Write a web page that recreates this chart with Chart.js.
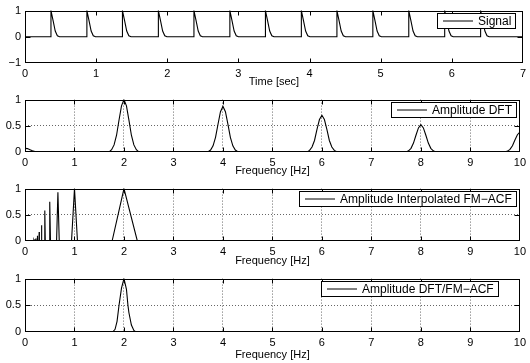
<!DOCTYPE html>
<html>
<head>
<meta charset="utf-8">
<script src="https://cdn.jsdelivr.net/npm/chart.js@4.4.1/dist/chart.umd.min.js"></script>
<style>
  html, body { margin: 0; padding: 0; background: #fff; }
  #wrap { position: relative; width: 530px; height: 363px; overflow: hidden; }
  #wrap canvas { position: absolute; left: 0; }
</style>
</head>
<body>
<div id="wrap">
  <canvas id="signalChart" width="530" height="89" style="top:0px"></canvas>
  <canvas id="dftChart" width="530" height="89" style="top:89px"></canvas>
  <canvas id="acfChart" width="530" height="90" style="top:178px"></canvas>
  <canvas id="ratioChart" width="530" height="95" style="top:268px"></canvas>
</div>
<script>
// time signal [sec, value], one pulse per line
const signalPoints = [
  [0, 0],
  [0.365, 0], [0.365, 1], [0.395, 0.62], [0.425, 0.22], [0.455, 0.04], [0.485, 0],
  [0.87, 0], [0.87, 1], [0.9, 0.62], [0.93, 0.22], [0.96, 0.04], [0.99, 0],
  [1.37, 0], [1.37, 1], [1.4, 0.62], [1.43, 0.22], [1.46, 0.04], [1.49, 0],
  [1.875, 0], [1.875, 1], [1.905, 0.62], [1.935, 0.22], [1.965, 0.04], [1.995, 0],
  [2.375, 0], [2.375, 1], [2.405, 0.62], [2.435, 0.22], [2.465, 0.04], [2.495, 0],
  [2.88, 0], [2.88, 1], [2.91, 0.62], [2.94, 0.22], [2.97, 0.04], [3.0, 0],
  [3.38, 0], [3.38, 1], [3.41, 0.62], [3.44, 0.22], [3.47, 0.04], [3.5, 0],
  [3.885, 0], [3.885, 1], [3.915, 0.62], [3.945, 0.22], [3.975, 0.04], [4.005, 0],
  [4.385, 0], [4.385, 1], [4.415, 0.62], [4.445, 0.22], [4.475, 0.04], [4.505, 0],
  [4.89, 0], [4.89, 1], [4.92, 0.62], [4.95, 0.22], [4.98, 0.04], [5.01, 0],
  [5.395, 0], [5.395, 1], [5.425, 0.62], [5.455, 0.22], [5.485, 0.04], [5.515, 0],
  [5.9, 0], [5.9, 1], [5.93, 0.62], [5.96, 0.22], [5.99, 0.04], [6.02, 0],
  [6.405, 0], [6.405, 1], [6.435, 0.62], [6.465, 0.22], [6.495, 0.04], [6.525, 0],
  [7, 0]
];

// amplitude DFT [Hz, amplitude]
const dftPoints = [
  [0, 0.07], [0.05, 0.065], [0.1, 0.045], [0.15, 0.025], [0.2, 0.01], [0.25, 0.003], [0.3, 0],
  [1.62, 0], [1.66, 0.008], [1.7, 0.002],
  [1.75, 0.044], [1.8, 0.135], [1.85, 0.32], [1.9, 0.61], [1.95, 0.88], [2, 1],
  [2.05, 0.88], [2.1, 0.61], [2.15, 0.32], [2.2, 0.135], [2.25, 0.044], [2.3, 0.002], [2.35, 0.008], [2.39, 0],
  [3.65, 0], [3.7, 0.006],
  [3.75, 0.038], [3.8, 0.117], [3.85, 0.28], [3.9, 0.53], [3.95, 0.77], [4, 0.87],
  [4.05, 0.77], [4.1, 0.53], [4.15, 0.28], [4.2, 0.117], [4.25, 0.038], [4.3, 0.006], [4.35, 0],
  [5.7, 0],
  [5.75, 0.031], [5.8, 0.095], [5.85, 0.22], [5.9, 0.43], [5.95, 0.62], [6, 0.70],
  [6.05, 0.62], [6.1, 0.43], [6.15, 0.22], [6.2, 0.095], [6.25, 0.031], [6.3, 0.004], [6.35, 0],
  [7.7, 0],
  [7.75, 0.023], [7.8, 0.07], [7.85, 0.17], [7.9, 0.32], [7.95, 0.46], [8, 0.52],
  [8.05, 0.46], [8.1, 0.32], [8.15, 0.17], [8.2, 0.07], [8.25, 0.023], [8.3, 0],
  [9.7, 0],
  [9.75, 0.017], [9.8, 0.05], [9.85, 0.12], [9.9, 0.23], [9.95, 0.33], [10, 0.38]
];

// amplitude interpolated FM-ACF [Hz, amplitude]
const acfPoints = [
  [0, 0],
  [0.175, 0], [0.18, 0.015], [0.185, 0],
  [0.197, 0], [0.2, 0.03], [0.203, 0],
  [0.219, 0], [0.222, 0.05], [0.225, 0],
  [0.246, 0], [0.25, 0.1], [0.254, 0],
  [0.281, 0], [0.286, 0.17], [0.291, 0],
  [0.326, 0], [0.333, 0.3], [0.34, 0],
  [0.39, 0], [0.4, 0.58], [0.41, 0],
  [0.485, 0], [0.5, 0.75], [0.515, 0],
  [0.638, 0], [0.665, 0.93], [0.692, 0],
  [0.94, 0], [1, 1], [1.06, 0],
  [1.76, 0], [2, 1], [2.27, 0],
  [10, 0]
];

// amplitude DFT / FM-ACF [Hz, amplitude]
const ratioPoints = [
  [0, 0], [1.77, 0], [1.82, 0.05], [1.86, 0.2], [1.9, 0.5], [1.95, 0.82], [2, 1],
  [2.05, 0.8], [2.08, 0.5], [2.1, 0.36], [2.15, 0.13], [2.2, 0.03], [2.24, 0], [10, 0]
];

const FAMILY = '"Liberation Sans", Arial, Helvetica, sans-serif';
const FONT = { family: FAMILY, size: 11 };
const LEGEND_FONT = '12px ' + FAMILY;
const DOT = 'rgba(0,0,0,0.6)';

const matlabFrame = {
  id: 'matlabFrame',
  afterDatasetsDraw(chart, args, opts) {
    const { ctx, chartArea: a, scales: { x, y } } = chart;
    const left = Math.round(a.left) + 0.5, right = Math.round(a.right) - 0.5;
    const top = Math.round(a.top) + 0.5, bottom = Math.round(a.bottom) - 0.5;
    ctx.save();
    ctx.strokeStyle = '#000';
    ctx.lineWidth = 1;
    ctx.beginPath();
    x.ticks.forEach((t) => {
      if (t.value <= x.min || t.value >= x.max) return;
      const px = Math.round(x.getPixelForValue(t.value)) + 0.5;
      ctx.moveTo(px, bottom); ctx.lineTo(px, bottom - 4);
      ctx.moveTo(px, top); ctx.lineTo(px, top + 4);
    });
    y.ticks.forEach((t) => {
      if (t.value <= y.min || t.value >= y.max) return;
      const py = Math.round(y.getPixelForValue(t.value)) + 0.5;
      ctx.moveTo(left, py); ctx.lineTo(left + 5, py);
      ctx.moveTo(right, py); ctx.lineTo(right - 5, py);
    });
    ctx.stroke();

    // legend box, anchored by its right edge
    if (opts.legendRight) {
      const label = chart.data.datasets[0].label;
      ctx.font = LEGEND_FONT;
      const tw = ctx.measureText(label).width;
      const x1 = opts.legendRight, x0 = Math.round(x1 - tw - 45);
      const bt = top + 2, bh = 15;
      ctx.fillStyle = '#fff';
      ctx.fillRect(x0, bt, x1 - x0, bh);
      ctx.strokeRect(x0 + 0.5, bt, x1 - x0, bh);
      ctx.beginPath();
      ctx.moveTo(x0 + 6, bt + bh / 2); ctx.lineTo(x0 + 36, bt + bh / 2);
      ctx.stroke();
      ctx.fillStyle = '#000';
      ctx.textBaseline = 'middle';
      ctx.fillText(label, x0 + 41, bt + bh / 2 + 0.5);
    }
    ctx.strokeRect(left, top, right - left, bottom - top);
    ctx.restore();
  }
};

function makePanel(id, cfg) {
  const edgeX = (c) => (c.tick && (c.tick.value <= 0 || c.tick.value >= cfg.xMax)) ? 'rgba(0,0,0,0)' : DOT;
  const edgeY = (c) => (c.tick && (c.tick.value <= cfg.yMin || c.tick.value >= 1)) ? 'rgba(0,0,0,0)' : DOT;
  return new Chart(document.getElementById(id), {
    type: 'line',
    data: { datasets: [{ label: cfg.label, data: cfg.points, borderColor: '#000', borderWidth: 1.1,
      pointRadius: 0, tension: 0, fill: false }] },
    options: {
      responsive: false, animation: false, devicePixelRatio: 1,
      layout: { padding: { top: cfg.padTop, right: 7, left: 0, bottom: 0 } },
      plugins: { legend: { display: false }, tooltip: { enabled: false }, matlabFrame: { legendRight: cfg.legendRight } },
      scales: {
        x: { type: 'linear', min: 0, max: cfg.xMax,
          afterFit: (s) => { s.height = cfg.xHeight; },
          ticks: { stepSize: 1, color: '#000', font: FONT, padding: 4, maxRotation: 0, autoSkip: false },
          grid: { display: cfg.grid, drawTicks: false, color: edgeX, lineWidth: 1 },
          border: { display: false, dash: [1, 2] },
          title: { display: true, text: cfg.xTitle, color: '#000', font: FONT, padding: { top: 0, bottom: cfg.titlePad } } },
        y: { type: 'linear', min: cfg.yMin, max: 1,
          afterFit: (s) => { s.width = 25; },
          ticks: { stepSize: cfg.yStep, color: '#000', font: FONT, padding: 4,
            callback: (v) => String(v).replace('-', '\u2212') },
          grid: { display: cfg.grid, drawTicks: false, color: edgeY, lineWidth: 1 },
          border: { display: false, dash: [1, 2] } }
      }
    },
    plugins: [matlabFrame]
  });
}

makePanel('signalChart', { label: 'Signal', points: signalPoints, xMax: 7, yMin: -1, yStep: 1, grid: false,
  xTitle: 'Time [sec]', padTop: 7, xHeight: 26, titlePad: 0, legendRight: 515 });
makePanel('dftChart', { label: 'Amplitude DFT', points: dftPoints, xMax: 10, yMin: 0, yStep: 0.5, grid: true,
  xTitle: 'Frequency [Hz]', padTop: 7, xHeight: 26, titlePad: 0, legendRight: 516 });
makePanel('acfChart', { label: 'Amplitude Interpolated FM\u2212ACF', points: acfPoints, xMax: 10, yMin: 0, yStep: 0.5, grid: true,
  xTitle: 'Frequency [Hz]', padTop: 7, xHeight: 27, titlePad: 0, legendRight: 516 });
makePanel('ratioChart', { label: 'Amplitude DFT/FM\u2212ACF', points: ratioPoints, xMax: 10, yMin: 0, yStep: 0.5, grid: true,
  xTitle: 'Frequency [Hz]', padTop: 8, xHeight: 31, titlePad: 1, legendRight: 498 });
</script>
</body>
</html>
